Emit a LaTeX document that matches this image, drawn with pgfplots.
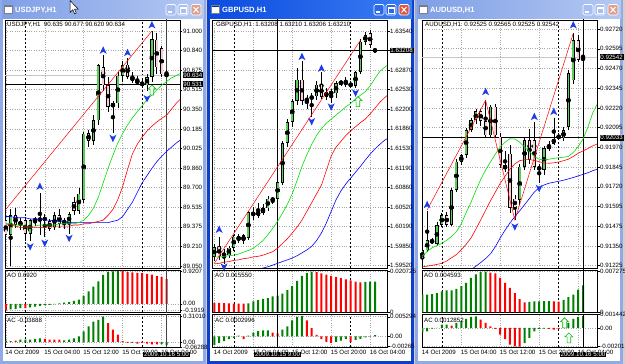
\documentclass[border=0pt]{standalone}
\usepackage{pgfplots}
\pgfplotsset{compat=1.18}
\usepackage{pgfplotstable}
\usepackage{fontspec}
\setmainfont{Liberation Sans}
\newcommand\fs{\fontsize{6.2}{7}\selectfont}
\newcommand\tfs{\fontsize{7.6}{9}\selectfont\bfseries}
\definecolor{bgc}{HTML}{D4D0C8}
\definecolor{bull}{HTML}{5CCB5C}
\definecolor{bear}{HTML}{F6CDD6}
\definecolor{maG}{HTML}{00E000}
\definecolor{maR}{HTML}{FF0000}
\definecolor{maB}{HTML}{0000FF}
\definecolor{aoG}{HTML}{008000}
\definecolor{aoR}{HTML}{FF0000}
\definecolor{frac}{HTML}{1E3CE6}
\definecolor{garrc}{HTML}{00C000}
\definecolor{gridg}{HTML}{A8A8A8}
\definecolor{frI}{HTML}{8FAAE6}
\definecolor{tIL}{HTML}{7F9FE6}
\definecolor{tIR}{HTML}{B4C8F2}
\definecolor{frA}{HTML}{0A3FD0}
\definecolor{tAL}{HTML}{0B4BE0}
\definecolor{tAR}{HTML}{3B7DF2}
\definecolor{bI}{HTML}{A6BEF2}
\definecolor{cI}{HTML}{DDA090}
\definecolor{bA}{HTML}{2C68EC}
\definecolor{cA}{HTML}{E2553A}

\pgfdeclareplotmark{fup}{\pgfpathmoveto{\pgfqpoint{0pt}{4pt}}\pgfpathlineto{\pgfqpoint{3.5pt}{-3.5pt}}\pgfpathlineto{\pgfqpoint{0pt}{-1.5pt}}\pgfpathlineto{\pgfqpoint{-3.5pt}{-3.5pt}}\pgfpathclose\pgfusepath{fill}}
\pgfdeclareplotmark{fdn}{\pgfpathmoveto{\pgfqpoint{0pt}{-4pt}}\pgfpathlineto{\pgfqpoint{3.5pt}{3.5pt}}\pgfpathlineto{\pgfqpoint{0pt}{1.5pt}}\pgfpathlineto{\pgfqpoint{-3.5pt}{3.5pt}}\pgfpathclose\pgfusepath{fill}}
\pgfdeclareplotmark{garr}{\pgfpathmoveto{\pgfqpoint{0pt}{5pt}}\pgfpathlineto{\pgfqpoint{4pt}{1pt}}\pgfpathlineto{\pgfqpoint{1.8pt}{1pt}}\pgfpathlineto{\pgfqpoint{1.8pt}{-5pt}}\pgfpathlineto{\pgfqpoint{-1.8pt}{-5pt}}\pgfpathlineto{\pgfqpoint{-1.8pt}{1pt}}\pgfpathlineto{\pgfqpoint{-4pt}{1pt}}\pgfpathclose\pgfusepathqfillstroke}

\pgfplotsset{
  mt/.style={scale only axis, width=175pt, anchor=north west, clip mode=individual,
    scaled y ticks=false, scaled x ticks=false,
    axis line style={black, line width=0.6pt},
    tick align=outside, major tick length=2.5pt,
    ytick pos=right, yticklabel pos=right,
    ytick style={black, line width=0.4pt},
    yticklabel style={font=\fs, inner sep=0.5pt},
    xtick={0,8,16,24,32}, xticklabels={}, xtick style={draw=none},
    xmajorgrids, ymajorgrids, major grid style={gridg, dotted, line width=0.5pt},
    extra x ticks={4,28}, extra x tick labels={},
    extra x tick style={grid=major, major grid style={black, dash pattern=on 2pt off 2pt, line width=0.5pt}, major tick length=0pt}},
  mtb/.style={mt, xticklabels={14 Oct 2009,15 Oct 04:00,15 Oct 12:00,15 Oct 20:00,16 Oct 04:00},
    xtick style={black, line width=0.4pt},
    xticklabel style={font=\fs, anchor=north west, inner sep=0.5pt, xshift=-1pt}},
  aob/.style={ybar, bar width=2pt, bar shift=0pt, draw=none, forget plot},
  eb/.style 2 args={only marks, mark=none, forget plot, error bars/.cd, y dir=both, y explicit, error mark=none, error bar style={draw=#1, line width=#2}},
}

% #1 table, #2 min half body, #3 inset, #4 fill colour
\newcommand\cset[4]{%
 \addplot[eb={black}{0.6pt}] table[x=i, y expr={(\thisrow{h}+\thisrow{l})/2}, y error expr={(\thisrow{h}-\thisrow{l})/2}] {#1};
 \addplot[eb={black}{3.2pt}] table[x=i, y expr={(\thisrow{o}+\thisrow{c})/2}, y error expr={max(abs(\thisrow{o}-\thisrow{c})/2,#2)}] {#1};
 \addplot[eb={#4}{1.8pt}] table[x=i, y expr={(\thisrow{o}+\thisrow{c})/2}, y error expr={max(abs(\thisrow{o}-\thisrow{c})/2-#3,0)}] {#1};
}
\newcommand\mas[1]{%
 \addplot[color=maB, line width=0.6pt, forget plot] table[x=i,y=j]{#1};
 \addplot[color=maR, line width=0.6pt, forget plot] table[x=i,y=t]{#1};
 \addplot[color=maG, line width=0.6pt, forget plot] table[x=i,y=l]{#1};
}
\newcommand\aoac[1]{%
 \addplot[aob, fill=aoG] table[x=i,y=g]{#1};
 \addplot[aob, fill=aoR] table[x=i,y=r]{#1};
}
\newcommand\win[8]{%
  \fill[#3] (#1,0) rectangle (#2,364);
  \shade[left color=#4, right color=#5] ({#1+2},1) rectangle ({#2-2},19);
  \fill[white] ({#1+3},19) rectangle ({#2-3},361);
  \fill[white] ({#1+4},5) rectangle ({#1+12},13);
  \fill[#3!70!black] ({#1+4},5) rectangle ({#1+12},7.5);
  \draw[gray, line width=0.4pt] ({#1+4},5) rectangle ({#1+12},13);
  \filldraw[fill=#6, draw=white, line width=0.7pt, rounded corners=1.5pt] ({#2-40},4.5) rectangle ({#2-30},15);
  \fill[white] ({#2-38},11.5) rectangle ({#2-34},13);
  \filldraw[fill=#6, draw=white, line width=0.7pt, rounded corners=1.5pt] ({#2-28},4.5) rectangle ({#2-18},15);
  \draw[white, line width=0.6pt] ({#2-26},7.5) rectangle ({#2-20},13);
  \fill[white] ({#2-26},7) rectangle ({#2-20},8.6);
  \filldraw[fill=#7, draw=white, line width=0.7pt, rounded corners=1.5pt] ({#2-15},4.5) rectangle ({#2-5},15);
  \draw[white, line width=1pt] ({#2-12.5},7) -- ({#2-7.5},12.5) ({#2-12.5},12.5) -- ({#2-7.5},7);
  \node[anchor=west, text=white, font=\tfs, inner sep=0pt] at ({#1+15},10) {#8};
}

% ---------------- USDJPY ----------------
\pgfplotstableread{
i o h l c
1 89.31 89.52 89.05 89.47
3 89.39 89.45 89.35 89.42
5 89.32 89.44 89.26 89.43
7 89.42 89.655 89.31 89.45
10 89.37 89.50 89.35 89.47
12 89.40 89.45 89.36 89.43
13 89.40 89.50 89.32 89.48
15 89.51 89.70 89.48 89.65
16 89.60 90.16 89.57 90.15
18 90.09 90.30 90.05 90.26
19 90.26 90.73 90.22 90.72
22 90.37 90.42 90.15 90.40
23 90.40 90.66 90.36 90.63
24 90.63 90.75 90.58 90.72
29 90.55 90.64 90.50 90.62
30 90.62 91.00 90.58 90.93
}\usdU
\pgfplotstableread{
i o h l c
0 89.43 89.50 89.20 89.31
2 89.47 89.53 89.37 89.39
4 89.43 89.46 89.26 89.32
6 89.44 89.46 89.38 89.42
8 89.46 89.48 89.29 89.42
9 89.42 89.44 89.34 89.36
11 89.47 89.52 89.37 89.40
14 89.58 89.62 89.47 89.51
17 90.15 90.18 90.04 90.09
20 90.70 90.80 90.50 90.55
21 90.55 90.62 90.33 90.37
25 90.72 90.78 90.60 90.62
26 90.62 90.66 90.57 90.59
27 90.59 90.63 90.55 90.57
28 90.57 90.60 90.53 90.55
31 90.93 90.98 90.64 90.70
32 90.86 90.88 90.62 90.64
33 90.635 90.677 90.620 90.634
}\usdD
\pgfplotstableread{
i j t l
0 89.46 89.40 89.40
1 89.46 89.39 89.40
2 89.45 89.38 89.39
3 89.45 89.37 89.39
4 89.45 89.37 89.38
5 89.44 89.37 89.38
6 89.44 89.37 89.38
7 89.44 89.37 89.39
8 89.43 89.37 89.39
9 89.43 89.38 89.39
10 89.42 89.38 89.39
11 89.42 89.38 89.40
12 89.42 89.38 89.40
13 89.41 89.38 89.40
14 89.41 89.39 89.40
15 89.41 89.39 89.41
16 89.41 89.40 89.43
17 89.41 89.40 89.47
18 89.41 89.41 89.53
19 89.41 89.42 89.62
20 89.41 89.43 89.74
21 89.41 89.47 89.86
22 89.42 89.52 89.97
23 89.43 89.60 90.07
24 89.46 89.71 90.15
25 89.52 89.85 90.22
26 89.58 89.98 90.28
27 89.66 90.06 90.33
28 89.74 90.12 90.38
29 89.80 90.17 90.43
30 89.86 90.21 90.47
31 89.915 90.245 90.51
32 89.96 90.275 90.55
33 90.00 90.30 90.58
34 90.035 90.35 90.61
35 90.07 90.40 90.63
36 90.10 90.44 90.65
}\usdM
\pgfplotstableread{
i g r
0 nan -0.17
1 -0.16 nan
2 -0.14 nan
3 -0.12 nan
4 nan -0.12
5 -0.10 nan
6 -0.08 nan
7 -0.06 nan
8 -0.04 nan
9 -0.03 nan
10 -0.01 nan
11 0.01 nan
12 0.03 nan
13 0.05 nan
14 0.08 nan
15 0.12 nan
16 0.22 nan
17 0.35 nan
18 0.48 nan
19 0.63 nan
20 0.81 nan
21 0.90 nan
22 0.91 nan
23 0.92 nan
24 nan 0.93
25 nan 0.89
26 nan 0.88
27 nan 0.87
28 nan 0.86
29 nan 0.84
30 nan 0.82
31 nan 0.78
32 nan 0.75
33 nan 0.692
}\usdAO
\pgfplotstableread{
i g r
0 0.016 nan
1 0.008 nan
2 nan 0.016
3 0.028 nan
4 0.028 nan
5 0.028 nan
6 0.036 nan
7 0.044 nan
8 nan 0.036
9 nan 0.028
10 nan 0.028
11 nan 0.028
12 0.020 nan
13 0.028 nan
14 0.044 nan
15 0.068 nan
16 0.129 nan
17 0.19 nan
18 0.25 nan
19 0.27 nan
20 0.31 nan
21 nan 0.23
22 nan 0.15
23 nan 0.089
24 nan 0.008
25 nan -0.012
26 -0.012 nan
27 nan -0.020
28 nan -0.012
29 nan -0.020
30 nan -0.032
31 nan -0.032
32 -0.028 nan
33 -0.0389 nan
}\usdAC

% ---------------- GBPUSD ----------------
\pgfplotstableread{
i o h l c
0 1.5967 1.5990 1.5960 1.5984
2 1.5968 1.5980 1.5955 1.5974
3 1.5970 1.5986 1.5965 1.5983
4 1.5983 1.6005 1.5978 1.6002
6 1.5994 1.6007 1.5990 1.6004
7 1.6000 1.6046 1.5996 1.6044
10 1.6042 1.6058 1.6038 1.6050
11 1.6050 1.6072 1.6046 1.6067
12 1.6065 1.6068 1.6058 1.6066
13 1.6067 1.6100 1.6062 1.6095
14 1.6094 1.6165 1.6090 1.6162
15 1.6162 1.6203 1.6155 1.6198
16 1.6198 1.6238 1.6190 1.6234
17 1.6234 1.6290 1.6228 1.6271
19 1.6234 1.6245 1.6220 1.6238
20 1.6238 1.6248 1.6206 1.6242
21 1.6242 1.6268 1.6236 1.6262
23 1.6241 1.6256 1.6236 1.6249
25 1.6247 1.6268 1.6240 1.6265
26 1.6265 1.6270 1.6260 1.6266
29 1.6260 1.6286 1.6256 1.6284
30 1.6284 1.6340 1.6280 1.6336
31 1.6336 1.6352 1.6330 1.6347
33 1.63208 1.63210 1.63206 1.63210
}\gbpU
\pgfplotstableread{
i o h l c
1 1.5985 1.6002 1.5962 1.5968
5 1.6002 1.6006 1.5990 1.5996
8 1.6044 1.6052 1.6030 1.6037
9 1.6046 1.6060 1.6034 1.6037
18 1.6271 1.6302 1.6228 1.6234
22 1.6262 1.6283 1.6238 1.6241
24 1.6249 1.6254 1.6231 1.6247
27 1.6266 1.6276 1.6258 1.6264
28 1.6264 1.6268 1.6256 1.6260
32 1.6350 1.6355 1.6325 1.6330
}\gbpD
\pgfplotstableread{
i j t l
0 1.5925 1.5955 1.5967
1 1.5927 1.5956 1.5967
2 1.5929 1.5958 1.5968
3 1.5931 1.5959 1.5969
4 1.5933 1.5961 1.5970
5 1.5935 1.5962 1.5972
6 1.5937 1.5964 1.5975
7 1.5939 1.5965 1.5978
8 1.5942 1.5967 1.5982
9 1.5945 1.5968 1.5988
10 1.5948 1.5970 1.5995
11 1.5950 1.5973 1.6005
12 1.5953 1.5976 1.6016
13 1.5956 1.5982 1.6028
14 1.5959 1.5990 1.6042
15 1.5962 1.5998 1.6057
16 1.5965 1.6008 1.6075
17 1.5969 1.6018 1.6098
18 1.5974 1.6030 1.6122
19 1.5979 1.6045 1.6142
20 1.5985 1.6060 1.6160
21 1.5995 1.6075 1.6175
22 1.6008 1.6090 1.6187
23 1.6025 1.6115 1.6196
24 1.6045 1.6140 1.6203
25 1.6065 1.6155 1.6210
26 1.6080 1.6165 1.6217
27 1.6092 1.6175 1.6224
28 1.6102 1.6183 1.6230
29 1.6112 1.6190 1.6237
30 1.6122 1.6197 1.6244
31 1.6133 1.6203 1.6250
32 1.6143 1.6212 1.6260
33 1.6152 1.6222 1.6273
34 1.6160 1.6232 1.6285
35 1.6167 1.6240 1.6292
36 1.6172 1.6247 1.6298
}\gbpM
\pgfplotstableread{
i g r
0 nan 0.0047
1 nan 0.0047
2 nan 0.0046
3 nan 0.0045
4 nan 0.0044
5 nan 0.0044
6 nan 0.0043
7 0.0045 nan
8 0.0055 nan
9 0.0062 nan
10 0.0068 nan
11 0.0072 nan
12 0.0080 nan
13 0.0085 nan
14 0.0095 nan
15 0.0112 nan
16 0.0133 nan
17 0.0160 nan
18 0.0185 nan
19 0.0200 nan
20 0.0207 nan
21 nan 0.0205
22 nan 0.0198
23 nan 0.0192
24 nan 0.0186
25 nan 0.0180
26 nan 0.0174
27 nan 0.0168
28 nan 0.0162
29 nan 0.0156
30 nan 0.0152
31 0.0155 nan
32 0.0156 nan
33 0.01555 nan
}\gbpAO
\pgfplotstableread{
i g r
0 -0.0024 nan
1 -0.0018 nan
2 -0.0013 nan
3 -0.0008 nan
4 -0.0004 nan
5 0.0002 nan
6 nan -0.0008
7 0.0002 nan
8 0.0010 nan
9 0.0014 nan
10 0.0016 nan
11 0.0016 nan
12 nan 0.0010
13 nan 0.0008
14 0.0018 nan
15 0.0027 nan
16 0.0043 nan
17 0.0052 nan
18 0.0055 nan
19 nan 0.0043
20 nan 0.0022
21 nan 0.0004
22 nan -0.0008
23 nan -0.0015
24 nan -0.0018
25 -0.0015 nan
26 -0.0012 nan
27 -0.0008 nan
28 nan -0.0015
29 -0.0010 nan
30 -0.0007 nan
31 -0.0003 nan
32 -0.0001 nan
33 0.0003 nan
}\gbpAC

% ---------------- AUDUSD ----------------
\pgfplotstableread{
i o h l c
0 0.91271 0.91335 0.91219 0.91324
1 0.91324 0.91570 0.91310 0.91387
3 0.91366 0.91500 0.91350 0.91482
4 0.91482 0.91560 0.91470 0.91545
6 0.91482 0.91715 0.91475 0.91703
7 0.91703 0.91900 0.91690 0.91882
8 0.91882 0.91935 0.91860 0.91924
9 0.91924 0.92095 0.91905 0.92082
10 0.92082 0.92160 0.92070 0.92145
11 0.92145 0.92215 0.92120 0.92200
14 0.92050 0.92240 0.92040 0.92230
20 0.91640 0.91870 0.91610 0.91850
21 0.91850 0.92040 0.91830 0.92019
25 0.91830 0.91980 0.91800 0.91966
26 0.91966 0.92010 0.91950 0.91987
27 0.91998 0.92160 0.91985 0.92029
29 0.92029 0.92100 0.92010 0.92082
30 0.92100 0.92460 0.92080 0.92440
31 0.92398 0.92693 0.92370 0.92651
33 0.92525 0.92565 0.92525 0.92542
}\audU
\pgfplotstableread{
i o h l c
2 0.91385 0.91400 0.91360 0.91375
5 0.91545 0.91565 0.91470 0.91482
12 0.92200 0.92215 0.92110 0.92140
13 0.92140 0.92269 0.92040 0.92050
15 0.92230 0.92245 0.92030 0.92050
16 0.92040 0.92060 0.91840 0.91861
17 0.91860 0.91950 0.91820 0.91835
18 0.91935 0.91990 0.91560 0.91594
19 0.91650 0.91670 0.91514 0.91594
22 0.92019 0.92090 0.91870 0.91893
23 0.92019 0.92130 0.91830 0.91850
24 0.91850 0.91870 0.91750 0.91830
28 0.92040 0.92060 0.92020 0.92038
32 0.92651 0.92680 0.92510 0.92524
}\audD
\pgfplotstableread{
i j t l
0 0.9110 0.91218 0.91286
1 0.9111 0.91222 0.91315
2 0.9112 0.91227 0.91338
3 0.9113 0.91233 0.91352
4 0.9114 0.91240 0.91366
5 0.9115 0.91255 0.91385
6 0.9116 0.91275 0.91410
7 0.9117 0.91295 0.91440
8 0.9118 0.91325 0.91490
9 0.9119 0.91360 0.91560
10 0.91200 0.91400 0.91625
11 0.91222 0.91455 0.91700
12 0.91245 0.91515 0.91770
13 0.91270 0.91575 0.91830
14 0.91300 0.91635 0.91880
15 0.91345 0.91690 0.91930
16 0.91400 0.91745 0.91975
17 0.91450 0.91790 0.92005
18 0.91495 0.91835 0.92027
19 0.91535 0.91868 0.92025
20 0.91572 0.91888 0.92005
21 0.91610 0.91895 0.91975
22 0.91650 0.91895 0.91945
23 0.91690 0.91890 0.91915
24 0.91718 0.91882 0.91897
25 0.91735 0.91874 0.91893
26 0.91746 0.91872 0.91897
27 0.91752 0.91875 0.91903
28 0.91758 0.91880 0.91907
29 0.91765 0.91888 0.91910
30 0.91773 0.91898 0.91915
31 0.91782 0.91915 0.91940
32 0.91792 0.91935 0.91977
33 0.91802 0.91950 0.92025
34 0.91812 0.91965 0.92100
35 0.91825 0.91982 0.92190
36 0.91835 0.91995 0.92250
}\audM
\pgfplotstableread{
i g r
0 0.00315 nan
1 0.00315 nan
2 0.00327 nan
3 0.00345 nan
4 0.00376 nan
5 0.00394 nan
6 0.00394 nan
7 0.00418 nan
8 0.00467 nan
9 0.00527 nan
10 0.00618 nan
11 0.00679 nan
12 0.00721 nan
13 0.00727 nan
14 nan 0.00709
15 nan 0.00697
16 nan 0.00618
17 nan 0.00527
18 nan 0.00436
19 nan 0.00345
20 nan 0.00236
21 nan 0.00176
22 0.00185 nan
23 0.00194 nan
24 0.00196 nan
25 0.00198 nan
26 0.00200 nan
27 nan 0.00194
28 nan 0.00190
29 0.00224 nan
30 0.00273 nan
31 0.00315 nan
32 0.00406 nan
33 0.00480 nan
}\audAO
\pgfplotstableread{
i g r
0 -0.00047 nan
1 -0.00036 nan
2 -0.00007 nan
3 0.00002 nan
4 0.00036 nan
5 0.00036 nan
6 nan 0.00025
7 0.00054 nan
8 0.00072 nan
9 0.00097 nan
10 0.00119 nan
11 0.00126 nan
12 nan 0.00090
13 nan 0.00054
14 nan 0.00018
15 nan -0.00011
16 nan -0.00072
17 nan -0.00119
18 nan -0.00180
19 nan -0.00198
20 nan -0.00201
21 -0.00162 nan
22 -0.00108 nan
23 -0.00036 nan
24 -0.00011 nan
25 -0.00007 nan
26 nan -0.00011
27 nan -0.00018
28 nan -0.00011
29 0.00036 nan
30 0.00054 nan
31 0.00097 nan
32 0.00119 nan
33 0.00128 nan
}\audAC

\begin{document}
\begin{tikzpicture}[x=1pt,y=1pt]
\useasboundingbox (0,0) rectangle (625,364);
\fill[bgc] (0,0) rectangle (625,364);
\begin{scope}[yshift=364pt, yscale=-1]
\win{0}{206}{frI}{tIL}{tIR}{bI}{cI}{USDJPY,H1}
\win{207}{414}{frA}{tAL}{tAR}{bA}{cA}{GBPUSD,H1}
\win{415}{623}{frI}{tIL}{tIR}{bI}{cI}{AUDUSD,H1}
\end{scope}

% ===== USDJPY =====
\begin{axis}[mt, at={(5pt,344pt)}, height=248pt, xmin=-0.164, xmax=35.77, ymin=89.033, ymax=91.0913,
  ytick={89.05,89.2125,89.375,89.5375,89.7,89.8625,90.025,90.1875,90.35,90.5125,90.675,90.8375,91.0},
  yticklabels={89.050,89.210,89.375,89.535,89.700,89.860,90.025,90.185,90.350,90.515,90.675,90.840,91.000}]
 \addplot[color=gray!45, line width=0.6pt, forget plot] coordinates {(-1,90.634) (40,90.634)};
 \addplot[color=black, line width=0.6pt, forget plot] coordinates {(-1,90.56) (40,90.56)};
 \addplot[color=black!75, line width=0.6pt, forget plot] coordinates {(33,89) (33,91.2)};
 \cset{\usdU}{0.0042}{0.0058}{bull}
 \cset{\usdD}{0.0042}{0.0058}{bear}
 \mas{\usdM}
 \addplot[color=maR, line width=0.5pt, forget plot] coordinates {(-0.2,89.51) (30,91.0)};
 \addplot[only marks, mark=fup, color=frac, forget plot] coordinates {(7,89.71) (20,90.84) (25,90.82) (30,91.05)};
 \addplot[only marks, mark=fdn, color=frac, forget plot] coordinates {(1,89.02) (5,89.21) (8,89.24) (13,89.28) (22,90.11) (29,90.44)};
 \addplot[only marks, mark=garr, mark options={draw=garrc, fill=white, line width=0.6pt}, forget plot] coordinates {(30,90.51)};
\end{axis}
\begin{axis}[mt, at={(5pt,94pt)}, height=42.5pt, xmin=-0.164, xmax=35.77, ymin=-0.245, ymax=0.95,
  ytick={-0.1919,0,0.9207}, yticklabels={-0.1919,0.00,0.9207}]
 \aoac{\usdAO}
 \addplot[color=black!75, line width=0.6pt, forget plot] coordinates {(33,-0.3) (33,1)};
\end{axis}
\begin{axis}[mtb, at={(5pt,49.5pt)}, height=32.5pt, xmin=-0.164, xmax=35.77, ymin=-0.063, ymax=0.337,
  ytick={-0.06288,0,0.3101}, yticklabels={-0.06288,0.00,0.31010}]
 \aoac{\usdAC}
 \addplot[color=black!75, line width=0.6pt, forget plot] coordinates {(33,-0.07) (33,0.34)};
\end{axis}

% ===== GBPUSD =====
\begin{axis}[mt, at={(212pt,344pt)}, height=248pt, xmin=-0.472, xmax=35.46, ymin=1.594802, ymax=1.637284,
  ytick={1.5952,1.59855,1.6019,1.60525,1.6086,1.61195,1.6153,1.61865,1.622,1.62535,1.6287,1.63205,1.6354},
  yticklabels={1.59520,1.59850,1.60190,1.60520,1.60860,1.61190,1.61530,1.61860,1.62200,1.62530,1.62870,1.63210,1.63540}]
 \addplot[color=black, line width=0.6pt, forget plot] coordinates {(-1,1.63208) (40,1.63208)};
 \addplot[color=black, line width=0.6pt, forget plot] coordinates {(13,1.594) (13,1.638)};
 \cset{\gbpU}{0.000086}{0.00012}{bull}
 \cset{\gbpD}{0.000086}{0.00012}{bear}
 \mas{\gbpM}
 \addplot[color=maR, line width=0.5pt, forget plot] coordinates {(0,1.5956) (30,1.6338)};
 \addplot[only marks, mark=fup, color=frac, forget plot] coordinates {(1,1.6014) (18,1.6310) (22,1.6290)};
 \addplot[only marks, mark=fdn, color=frac, forget plot] coordinates {(2,1.5950) (20,1.6199) (24,1.6224) (29,1.6248)};
 \addplot[only marks, mark=garr, mark options={draw=garrc, fill=white, line width=0.6pt}, forget plot] coordinates {(29.5,1.6233)};
\end{axis}
\begin{axis}[mt, at={(212pt,94pt)}, height=42.5pt, xmin=-0.472, xmax=35.46, ymin=-0.0002, ymax=0.02157,
  ytick={0,0.020725}, yticklabels={0,0.020725}]
 \aoac{\gbpAO}
 \addplot[color=black, line width=0.6pt, forget plot] coordinates {(13,-0.0005) (13,0.022)};
\end{axis}
\begin{axis}[mtb, at={(212pt,49.5pt)}, height=32.5pt, xmin=-0.472, xmax=35.46, ymin=-0.0029, ymax=0.0059,
  ytick={-0.00265,0,0.005294}, yticklabels={-0.00265,0.00,0.005294}]
 \aoac{\gbpAC}
 \addplot[color=black, line width=0.6pt, forget plot] coordinates {(13,-0.003) (13,0.006)};
\end{axis}

% ===== AUDUSD =====
\begin{axis}[mt, at={(422pt,344pt)}, height=248pt, xmin=-0.06, xmax=35.87, ymin=0.912105, ymax=0.927768,
  ytick={0.91225,0.913496,0.914742,0.915987,0.917233,0.918479,0.919725,0.920971,0.922216,0.923462,0.924708,0.925954,0.9272},
  yticklabels={0.91225,0.91350,0.91475,0.91595,0.91720,0.91845,0.91970,0.92095,0.92220,0.92345,0.92470,0.92595,0.92720}]
 \addplot[color=gray!45, line width=0.6pt, forget plot] coordinates {(-1,0.92542) (40,0.92542)};
 \addplot[color=black, line width=0.6pt, forget plot] coordinates {(-1,0.92033) (40,0.92033)};
 \addplot[color=black, line width=0.6pt, forget plot] coordinates {(33,0.912) (33,0.928)};
 \cset{\audU}{0.000032}{0.000044}{bull}
 \cset{\audD}{0.000032}{0.000044}{bear}
 \mas{\audM}
 \addplot[color=maR, line width=0.5pt, forget plot] coordinates {(1,0.91577) (13,0.92269) (19,0.91514) (31,0.92693)};
 \addplot[only marks, mark=fup, color=frac, forget plot] coordinates {(1,0.91610) (13,0.92324) (23,0.92166) (27,0.92198) (31,0.92745)};
 \addplot[only marks, mark=fdn, color=frac, forget plot] coordinates {(19,0.91471) (24,0.91714)};
\end{axis}
\begin{axis}[mt, at={(422pt,94pt)}, height=42.5pt, xmin=-0.06, xmax=35.87, ymin=-0.00004, ymax=0.00757,
  ytick={0,0.007275}, yticklabels={0,0.007275}]
 \aoac{\audAO}
 \addplot[color=black, line width=0.6pt, forget plot] coordinates {(33,-0.0001) (33,0.0077)};
\end{axis}
\begin{axis}[mtb, at={(422pt,49.5pt)}, height=32.5pt, xmin=-0.06, xmax=35.87, ymin=-0.00205, ymax=0.00145,
  ytick={-0.00201,0,0.001442}, yticklabels={-0.00201,0.00,0.001442}]
 \aoac{\audAC}
 \addplot[color=black, line width=0.6pt, forget plot] coordinates {(33,-0.0021) (33,0.0015)};
 \addplot[only marks, mark=garr, mark options={draw=garrc, fill=white, line width=0.6pt}, forget plot] coordinates {(29.2,0.00055) (30.1,-0.00107)};
\end{axis}

% ===== overlays =====
\begin{scope}[yshift=364pt, yscale=-1]
\tikzset{hd/.style={anchor=west, font=\fs, inner sep=0pt}, bx/.style={anchor=west, fill=black, text=white, font=\fs, inner sep=0.7pt}, tb/.style={fill=black, text=white, font=\fs, inner sep=0.8pt}}
\node[hd] at (7,25) {USDJPY,H1\ \ 90.635 90.677 90.620 90.634};
\node[hd] at (7,275.5) {AO 0.6920};
\node[hd] at (7,320.5) {AC -0.03888};
\node[hd] at (216,25) {GBPUSD,H1\ \ 1.63208 1.63210 1.63206 1.63210};
\node[hd] at (215,275.5) {AO 0.015550};
\node[hd] at (215,320.5) {AC 0.0002996};
\node[hd] at (425,25) {AUDUSD,H1\ \ 0.92525 0.92565 0.92525 0.92542};
\node[hd] at (424,275.5) {AO 0.004593};
\node[hd] at (424,320.5) {AC 0.0012852};
\node[bx] at (182.5,75.1) {90.634};
\node[bx] at (182.5,84) {90.531};
\node[bx] at (389.5,50.4) {1.63208};
\node[bx] at (599.5,57.2) {0.92542};
\node[bx] at (599.5,137.8) {0.92033};
\node[tb] at (166.5,354.5) {2009.10.16 5:00};
\node[tb] at (277.6,354.5) {2009.10.15 9:00};
\node[tb] at (583,354.5) {2009.10.16 5:00};
\filldraw[fill=white, draw=black, line width=0.5pt] (70,0.5) -- (70,12.5) -- (72.8,9.8) -- (74.6,13.8) -- (76.3,13.1) -- (74.5,9.1) -- (78.2,9.1) -- cycle;
\end{scope}
\end{tikzpicture}
\end{document}
